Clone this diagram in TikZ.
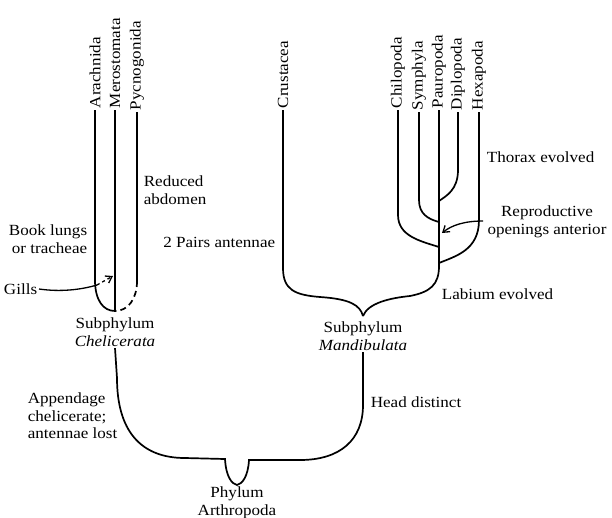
\documentclass[tikz,border=0pt]{standalone}
\usepackage{fontspec}
\setmainfont[FakeStretch=1.1]{Liberation Serif}
\usetikzlibrary{arrows.meta}

\begin{document}
\begin{tikzpicture}[x=1pt,y=-1pt,line width=1.7pt,>={Straight Barb[length=6pt,width=8pt]},
    taxon/.style={rotate=90,anchor=west,inner sep=1pt,font=\fontsize{15.5}{17}\selectfont},
    note/.style={inner sep=1pt,font=\fontsize{15.5}{17.5}\selectfont}]
    \useasboundingbox (0,0) rectangle (612,517);

    \node[taxon] (arach) at (95,110) {Arachnida};
    \node[taxon] (mero) at (115,110) {Merostomata};
    \node[taxon] (pycno) at (137,112) {Pycnogonida};
    \node[taxon] (crust) at (283,110) {Crustacea};
    \node[taxon] (chilo) at (398,110) {Chilopoda};
    \node[taxon] (symph) at (419,112) {Symphyla};
    \node[taxon] (pauro) at (439,110) {Pauropoda};
    \node[taxon] (diplo) at (458,112) {Diplopoda};
    \node[taxon] (hexa) at (479,112) {Hexapoda};

    \node[note,align=center] (chel) at (115,332) {Subphylum\\\textit{Chelicerata}};
    \node[note,align=center] (mand) at (363,336) {Subphylum\\\textit{Mandibulata}};
    \node[note,align=center,anchor=north] (phyl) at (237,485) {Phylum\\Arthropoda};

    \coordinate (cbase) at (115,311);
    \coordinate (mbase) at (363,316);
    \coordinate (stem) at (439,266);

    % Chelicerata branches
    \draw (arach.west) -- (95,280) .. controls (95,300) and (103,311) .. (cbase);
    \draw (mero.west) -- (cbase);
    \draw (pycno.west) -- (137,281);
    \draw[dashed,dash pattern=on 6pt off 4pt] (137,281) .. controls (137,299) and (128,311) .. (cbase);

    % Mandibulata branches
    \draw (crust.west) -- (283,268) .. controls (283,290) and (295,295) .. (320,297)
        .. controls (350,299) and (360,305) .. (mbase);
    \draw (mbase) .. controls (368,303) and (390,298) .. (410,296)
        .. controls (430,292) and (439,285) .. (stem);
    \draw (pauro.west) -- (stem);
    \draw (diplo.west) -- (458,170) .. controls (458,190) and (446,196) .. (439,201);
    \draw (symph.west) -- (419,200) .. controls (419,214) and (428,219) .. (439,222);
    \draw (chilo.west) -- (398,215) .. controls (398,236) and (420,241) .. (439,247);
    \draw (hexa.west) -- (479,220) .. controls (479,250) and (456,256) .. (439,263);

    % stem to the phylum
    \draw (chel.south) -- (117,378) .. controls (117,430) and (140,458) .. (185,458)
        -- (225,459) .. controls (226,477) and (232,484) .. (phyl.north)
        .. controls (242,484) and (248,477) .. (249,460) -- (300,460)
        .. controls (340,460) and (363,440) .. (363,405) -- (mand.south);

    % characters
    \node[note,align=left,anchor=west] (reduc) at (142,190) {Reduced\\abdomen};
    \node[note,align=right,anchor=east] (lungs) at (89,239) {Book lungs\\or tracheae};
    \node[note,anchor=east] (gills) at (39,289) {Gills};
    \node[note,align=left,anchor=west] (appen) at (26,416) {Appendage\\chelicerate;\\antennae lost};
    \node[note,anchor=east] (pairs) at (277,242) {2 Pairs antennae};
    \node[note,anchor=west] (thorax) at (485,157) {Thorax evolved};
    \node[note,align=center] (repro) at (547,222) {Reproductive\\openings anterior};
    \node[note,anchor=west] (labium) at (440,294) {Labium evolved};
    \node[note,anchor=west] (head) at (369,402) {Head distinct};

    \coordinate (gend) at (97,285);
    \draw[line width=1.3pt] (gills.east) .. controls (60,292) and (80,290) .. (gend);
    \draw[->,line width=1.3pt,dashed] (gend) -- (113,276);
    \draw[->,line width=1.3pt] (483,221) .. controls (465,221) and (452,225) .. (442,233);
\end{tikzpicture}
\end{document}
